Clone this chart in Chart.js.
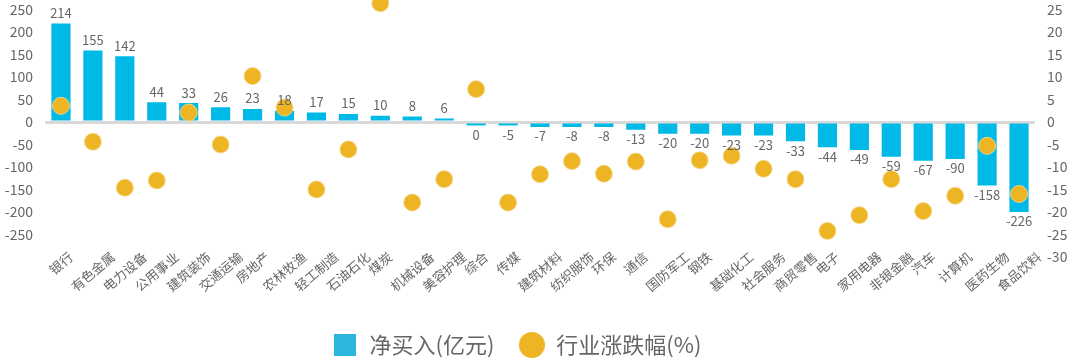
<!DOCTYPE html>
<html>
<head>
<meta charset="utf-8">
<script src="https://cdn.jsdelivr.net/npm/chart.js@4.4.1/dist/chart.umd.min.js"></script>
<style>
  html, body { margin: 0; padding: 0; background: #ffffff; }
  #wrap { width: 1080px; height: 360px; }
</style>
</head>
<body>
<div id="wrap"><canvas id="c" width="1080" height="360"></canvas></div>
<script>
// ---- data ----
const categories = ['银行','有色金属','电力设备','公用事业','建筑装饰','交通运输','房地产','农林牧渔','轻工制造','石油石化','煤炭','机械设备','美容护理','综合','传媒','建筑材料','纺织服饰','环保','通信','国防军工','钢铁','基础化工','社会服务','商贸零售','电子','家用电器','非银金融','汽车','计算机','医药生物','食品饮料'];
// bar heights as drawn (亿元)
const netBuy = [219,159,146,44,42,33,29,25,21,18,14,12,8,-8,-8,-11,-11,-11,-17,-26,-26,-30,-30,-43,-56,-62,-77,-86,-82,-141,-200];
// value labels printed on the bars
const netBuyLabels = ['214','155','142','44','33','26','23','18','17','15','10','8','6','0','-5','-7','-8','-8','-13','-20','-20','-23','-23','-33','-44','-49','-59','-67','-90','-158','-226'];
// industry change (%)
const change = [3.6,-4.4,-14.6,-13.0,2.1,-5.0,10.2,3.2,-15.0,-6.1,26.4,-17.9,-12.7,7.3,-17.9,-11.6,-8.7,-11.5,-8.8,-21.6,-8.5,-7.5,-10.4,-12.7,-24.2,-20.7,-12.7,-19.8,-16.4,-5.3,-16.0];
const seriesNames = ['净买入(亿元)', '行业涨跌幅(%)'];

const BAR = '#00B9E7';
const DOT = '#EDB423';
const TXT = '#666666';
const FONT = "'Noto Sans CJK SC', 'Noto Sans', sans-serif";
Chart.defaults.font.family = FONT;
Chart.defaults.color = TXT;

function makeSquare(size, color) {
  const c = document.createElement('canvas');
  c.width = size; c.height = size;
  const g = c.getContext('2d');
  g.fillStyle = color; g.fillRect(0, 0, size, size);
  return c;
}
function makeCircle(size, color) {
  const c = document.createElement('canvas');
  c.width = size; c.height = size;
  const g = c.getContext('2d');
  g.fillStyle = color; g.beginPath(); g.arc(size/2, size/2, size/2, 0, Math.PI*2); g.fill();
  return c;
}
const legendIcons = [makeSquare(22, '#2CB6DE'), makeCircle(26, DOT)];

const valueLabels = {
  id: 'valueLabels',
  afterDatasetsDraw(chart) {
    const ctx = chart.ctx;
    const meta = chart.getDatasetMeta(0);
    ctx.save();
    ctx.font = '13px ' + FONT;
    ctx.fillStyle = TXT;
    ctx.textAlign = 'center';
    meta.data.forEach((bar, i) => {
      if (netBuy[i] >= 0) {
        ctx.textBaseline = 'bottom';
        ctx.fillText(netBuyLabels[i], bar.x, bar.y - 4);
      } else {
        ctx.textBaseline = 'top';
        ctx.fillText(netBuyLabels[i], bar.x, bar.y + 3);
      }
    });
    ctx.restore();
  }
};

// category labels: rotated, centred horizontally on each tick (spreadsheet style)
const centredRotatedLabels = {
  id: 'centredRotatedLabels',
  afterDraw(chart) {
    const ctx = chart.ctx;
    const xs = chart.scales.x;
    const th = 40 * Math.PI / 180;
    const fs = 13;
    const top = chart.chartArea.bottom - 7;
    ctx.save();
    ctx.font = fs + 'px ' + FONT;
    ctx.fillStyle = TXT;
    ctx.textAlign = 'center';
    ctx.textBaseline = 'middle';
    xs.getLabels().forEach((lab, i) => {
      const x = xs.getPixelForTick(i);
      const L = ctx.measureText(lab).width;
      const cy = top + (L * Math.sin(th) + fs * Math.cos(th)) / 2;
      ctx.save();
      ctx.translate(x, cy);
      ctx.rotate(-th);
      ctx.fillText(lab, 0, 0);
      ctx.restore();
    });
    ctx.restore();
  }
};

const legendShift = {
  id: 'legendShift',
  afterLayout(chart) {
    const lg = chart.legend;
    if (lg) { lg.left -= 23.5; lg.right -= 23.5; lg.top += 6; lg.bottom += 6; }
  }
};

function noPad(scale) { scale.paddingTop = 0; scale.paddingBottom = 0; }

new Chart(document.getElementById('c'), {
  type: 'bar',
  data: {
    labels: categories,
    datasets: [
      {
        type: 'bar',
        label: seriesNames[0],
        data: netBuy,
        backgroundColor: BAR,
        yAxisID: 'y',
        categoryPercentage: 1,
        barPercentage: 0.6,
        order: 1
      },
      {
        type: 'line',
        label: seriesNames[1],
        data: change,
        yAxisID: 'y1',
        showLine: false,
        pointRadius: 8.5,
        pointHoverRadius: 8.5,
        pointBackgroundColor: DOT,
        pointBorderColor: 'rgba(245,215,140,0.9)',
        pointBorderWidth: 1,
        backgroundColor: DOT,
        borderColor: DOT,
        clip: false,
        order: 0
      }
    ]
  },
  options: {
    responsive: false,
    animation: false,
    devicePixelRatio: 1,
    layout: { padding: { top: 9.5, left: 0, right: 0, bottom: 0 } },
    plugins: {
      tooltip: { enabled: false },
      legend: {
        position: 'bottom',
        labels: {
          usePointStyle: true,
          boxWidth: 22,
          boxHeight: 22,
          pointStyleWidth: 27,
          padding: 24,
          color: TXT,
          font: { size: 22, family: FONT },
          sort: (a, b) => a.datasetIndex - b.datasetIndex,
          generateLabels(chart) {
            const items = Chart.defaults.plugins.legend.labels.generateLabels(chart);
            items.forEach(it => { it.pointStyle = legendIcons[it.datasetIndex]; it.lineWidth = 0; });
            return items;
          }
        }
      }
    },
    scales: {
      x: {
        grid: { display: false, drawTicks: false },
        border: { display: false },
        ticks: { display: false, autoSkip: false },
        afterFit(scale) { scale.height = 47; scale.paddingLeft = 0; scale.paddingRight = 0; }
      },
      y: {
        position: 'left',
        min: -300,
        max: 250,
        z: 1,
        border: { display: false },
        grid: {
          drawTicks: false,
          color: (ctx) => (ctx.tick && ctx.tick.value === 0) ? '#D9D9D9' : 'rgba(0,0,0,0)',
          lineWidth: 3
        },
        ticks: {
          stepSize: 50,
          padding: 12,
          color: TXT,
          font: { size: 14 },
          callback: (v) => (v < -250 ? '' : v)
        },
        afterFit(scale) { scale.width = 45; noPad(scale); }
      },
      y1: {
        position: 'right',
        min: -30,
        max: 25,
        border: { display: false },
        grid: { display: false, drawTicks: false },
        ticks: {
          stepSize: 5,
          padding: 12,
          color: TXT,
          font: { size: 14 }
        },
        afterFit(scale) { scale.width = 45; noPad(scale); }
      }
    }
  },
  plugins: [valueLabels, centredRotatedLabels, legendShift]
});
</script>
</body>
</html>
